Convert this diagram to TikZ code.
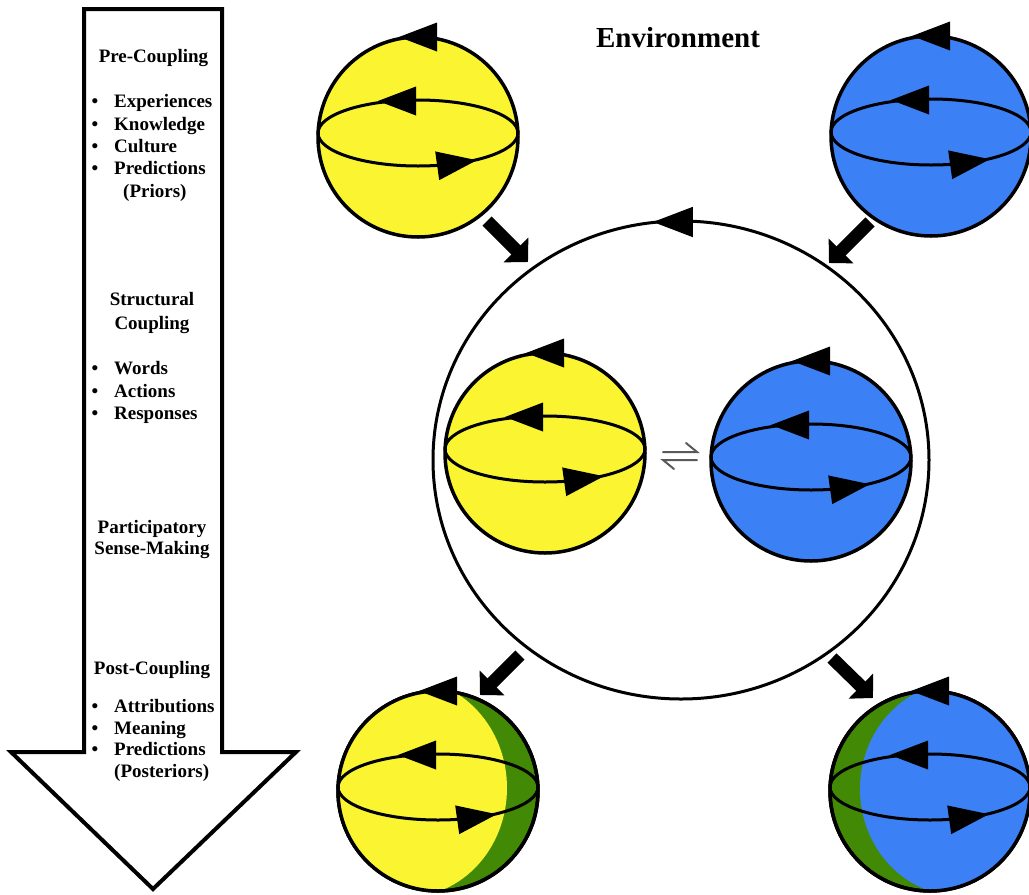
\documentclass[tikz,border=0pt]{standalone}
\usepackage{fontspec}
\setmainfont{Liberation Serif}
\usetikzlibrary{arrows.meta,shapes.geometric}

\definecolor{ballyellow}{RGB}{250,245,48}
\definecolor{ballblue}{RGB}{60,128,246}
\definecolor{ballgreen}{RGB}{66,137,6}

\tikzset{
  ball/.style={circle, draw=black, line width=3.5pt, minimum size=200pt, inner sep=0pt},
  envring/.style={ellipse, draw=black, line width=3pt, minimum width=496pt, minimum height=478pt, inner sep=0pt},
  equator/.style={line width=3pt},
  flow/.style={line width=13pt, -{Triangle[length=17pt 0 0, width=34pt 0 0]}},
  harpoon/.style={line width=2pt, draw=black!65, line cap=round},
  txt/.style={font=\bfseries\fontsize{19}{22}\selectfont, inner sep=0pt},
  item/.style={txt, anchor=base west},
  bullet/.style={txt, anchor=base},
  heading/.style={txt, anchor=base},
  pics/spinleft/.style={code={\fill (-19,0) -- (19,-14.5) -- (19,14.5) -- cycle;}},
  pics/spinright/.style={code={\fill (20,0) -- (-20,-14.5) -- (-20,14.5) -- cycle;}},
}

% equator and rotation marks of a ball, relative to its centre
\newcommand\ballmarks[1]{%
  \begin{scope}[shift={(#1.center)}]
    \draw[equator] (0,-4) ellipse [x radius=100, y radius=33];
    \pic at (0,-100) {spinleft};
    \pic at (-21,-36) {spinleft};
    \pic[rotate=8] at (39,26) {spinright};
  \end{scope}}

\begin{document}
\begin{tikzpicture}[x=1pt, y=-1pt]
  \useasboundingbox (0,0) rectangle (1029,895);

  % ---- time arrow with the stages ----
  \draw[line width=4pt, line join=miter, fill=white]
    (84,9) -- (222,9) -- (222,752) -- (296,752) -- (153,889)
    -- (11,752) -- (84,752) -- cycle;

  \node[heading] (pre) at (153.5,62) {Pre-Coupling};
  \foreach \y/\t [count=\i] in {107/Experiences, 130/Knowledge, 152/Culture, 174/Predictions} {
    \node[bullet] (preb\i) at (95,\y) {•};
    \node[item] (pret\i) at (114,\y) {\t};
  }
  \node[item] (pri) at (123,197) {(Priors)};

  \node[heading] (sc1) at (152,305) {Structural};
  \node[heading] (sc2) at (152,329) {Coupling};
  \foreach \y/\t [count=\i] in {374/Words, 397/Actions, 419/Responses} {
    \node[bullet] (scb\i) at (95,\y) {•};
    \node[item] (sct\i) at (114,\y) {\t};
  }

  \node[heading] (ps1) at (152,533) {Participatory};
  \node[heading] (ps2) at (152,554) {Sense-Making};

  \node[heading] (post) at (152,674) {Post-Coupling};
  \foreach \y/\t [count=\i] in {712/Attributions, 734/Meaning, 755/Predictions} {
    \node[bullet] (pob\i) at (95,\y) {•};
    \node[item] (pot\i) at (114,\y) {\t};
  }
  \node[item] (post4) at (114,777) {(Posteriors)};

  % ---- environment ----
  \node[txt, font=\bfseries\fontsize{29}{32}\selectfont, anchor=base] (envlabel) at (678,47) {Environment};
  \node[envring] (env) at (681,460) {};
  \pic[scale=1.05] at (673,222) {spinleft};

  % ---- agents before coupling ----
  \node[ball, fill=ballyellow] (a0) at (418,137) {};
  \ballmarks{a0}
  \node[ball, fill=ballblue] (b0) at (931,136) {};
  \ballmarks{b0}

  % ---- agents while coupled ----
  \node[ball, fill=ballyellow] (a1) at (545,453) {};
  \ballmarks{a1}
  \node[ball, fill=ballblue] (b1) at (811,461) {};
  \ballmarks{b1}

  % equilibrium sign between the coupled agents
  \draw[harpoon] (663,452) -- (697,452) -- (686,443);
  \draw[harpoon] (697,460) -- (663,460) -- (674,469);

  % ---- agents after coupling ----
  \node[ball, fill=ballgreen] (a2) at (438,791) {};
  \begin{scope}
    \clip (a2.center) circle [radius=100];
    \fill[ballyellow] ([shift={(-31,-3)}]a2.center) ellipse [x radius=100, y radius=109];
  \end{scope}
  \draw[line width=3.5pt] (a2.center) circle [radius=100];
  \ballmarks{a2}

  \node[ball, fill=ballgreen] (b2) at (930,791) {};
  \begin{scope}
    \clip (b2.center) circle [radius=100];
    \fill[ballblue] ([shift={(30,-2)}]b2.center) ellipse [x radius=100, y radius=107];
  \end{scope}
  \draw[line width=3.5pt] (b2.center) circle [radius=100];
  \ballmarks{b2}

  % ---- flows between the agents and the environment ----
  \coordinate (fa0s) at (487,221);  \coordinate (fa0e) at (528,262);
  \coordinate (fb0s) at (870,222);  \coordinate (fb0e) at (829,263);
  \coordinate (fa2s) at (520,655);  \coordinate (fa2e) at (480,695);
  \coordinate (fb2s) at (832,658);  \coordinate (fb2e) at (873,698);
  \draw[flow] (fa0s) -- (fa0e);
  \draw[flow] (fb0s) -- (fb0e);
  \draw[flow] (fa2s) -- (fa2e);
  \draw[flow] (fb2s) -- (fb2e);
\end{tikzpicture}
\end{document}
